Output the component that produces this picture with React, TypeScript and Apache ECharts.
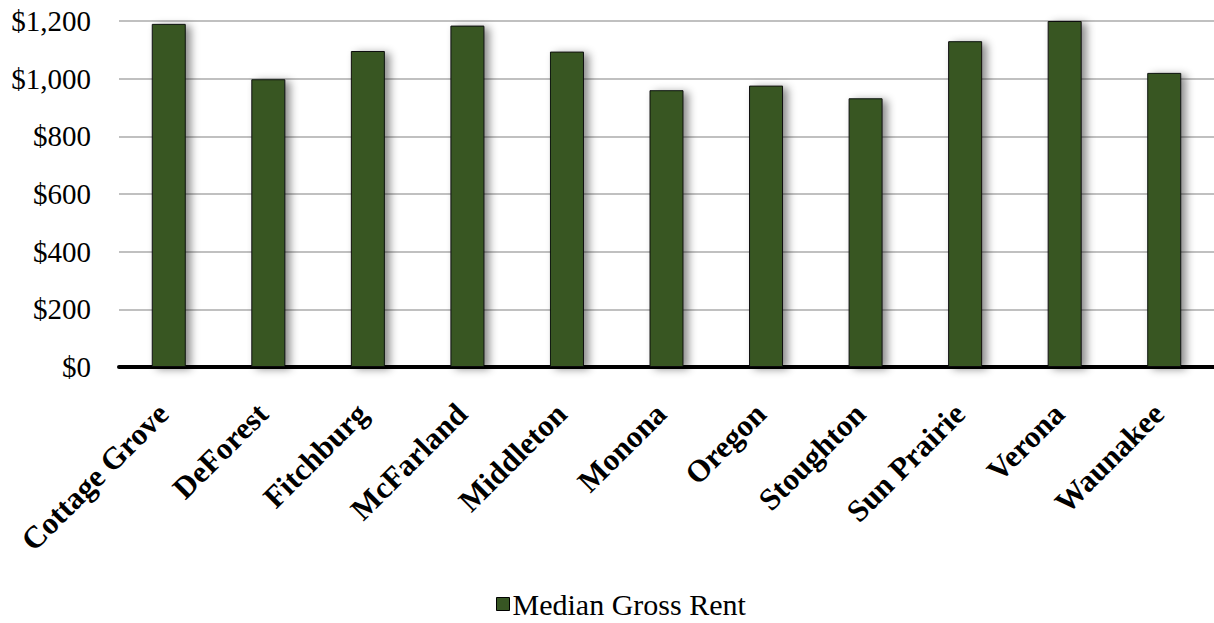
import React, { useEffect, useRef } from "react";
import * as echarts from "echarts";

const categories = [
  "Cottage Grove",
  "DeForest",
  "Fitchburg",
  "McFarland",
  "Middleton",
  "Monona",
  "Oregon",
  "Stoughton",
  "Sun Prairie",
  "Verona",
  "Waunakee",
];
const seriesName = "Median Gross Rent";
const rentValues = [1190, 998, 1096, 1184, 1094, 960, 976, 932, 1130, 1200, 1020];
const yTicks = { min: 0, max: 1200, interval: 200 };

const FONT = "'Liberation Serif', 'Times New Roman', serif";
const GREEN = "#375623";

export default function App() {
  const ref = useRef<HTMLDivElement>(null);
  useEffect(() => {
    if (!ref.current) return;
    const chart = echarts.init(ref.current, null, { renderer: "svg" });
    chart.setOption({
      animation: false,
      backgroundColor: "#ffffff",
      grid: { left: 119, right: -6, top: 21, bottom: 256, containLabel: false },
      legend: {
        data: [seriesName],
        left: 491,
        top: 584,
        padding: 5,
        itemWidth: 13,
        itemHeight: 13,
        icon: "rect",
        itemStyle: { borderColor: "#000", borderWidth: 1 },
        textStyle: { fontFamily: FONT, fontSize: 30, color: "#000", padding: [0, 0, 0, -2] },
      },
      xAxis: {
        type: "category",
        data: categories,
        axisLine: { show: true, lineStyle: { color: "#000", width: 4 } },
        axisTick: { show: false },
        axisLabel: {
          rotate: 45,
          interval: 0,
          margin: 36,
          padding: [0, 8, 0, 0],
          fontFamily: FONT,
          fontWeight: "bold",
          fontSize: 31,
          color: "#000",
        },
      },
      yAxis: {
        type: "value",
        min: yTicks.min,
        max: yTicks.max,
        interval: yTicks.interval,
        axisLine: { show: false },
        axisTick: { show: false },
        splitLine: { lineStyle: { color: "#c0c0c0", width: 2 } },
        axisLabel: {
          margin: 28,
          fontFamily: FONT,
          fontSize: 29,
          color: "#000",
          formatter: (v: number) => "$" + v.toLocaleString("en-US"),
        },
      },
      series: [
        {
          name: seriesName,
          type: "bar",
          data: rentValues,
          barWidth: 34,
          itemStyle: {
            color: GREEN,
            borderColor: "#111",
            borderWidth: 1,
            shadowColor: "rgba(0,0,0,0.45)",
            shadowBlur: 8,
            shadowOffsetX: 5,
            shadowOffsetY: 2,
          },
        },
      ],
    });
    return () => chart.dispose();
  }, []);
  return (
    <div
      ref={ref}
      style={{ position: "fixed", left: 0, top: 0, width: 1214, height: 623 }}
    />
  );
}
